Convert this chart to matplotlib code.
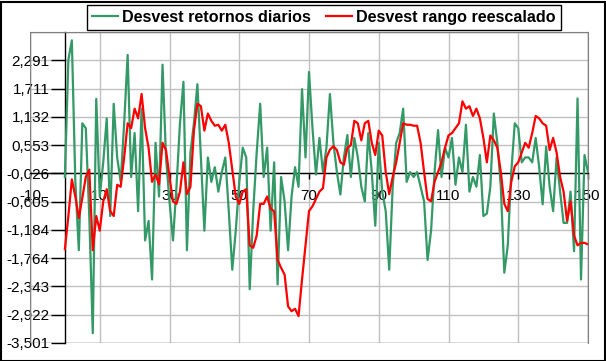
import numpy as np
import matplotlib
matplotlib.use('Agg')
import matplotlib.pyplot as plt
from matplotlib.patches import Rectangle

plt.rcParams['font.family'] = ['Liberation Sans', 'DejaVu Sans']

# periodo (x) y series
periodo = list(range(0, 151))

desvest_retornos = [
    -0.1, 2.3, 2.7, -0.2, -1.6, 1.0, 0.9, -0.9, -3.3, 1.5,
    -0.5, 0.2, 1.1, -0.9, 1.4, 0.3, -0.2, 1.0, 2.4, -0.1,
    0.8, -0.8, 1.3, -1.4, -1.0, -2.2, 0.6, -0.5, 2.2, 0.3,
    -0.6, -1.4, -0.3, 1.0, 1.85, -1.6, 0.4, 1.0, 1.8, 0.3,
    -1.2, 0.3, -0.2, 0.1, -0.4, 0.0, 0.3, -0.8, -2.0, -1.2,
    -0.2, 0.5, 0.3, -2.4, -0.8, 0.4, 1.4, -0.1, 0.5, -1.2,
    0.2, -2.3, -0.1, -0.6, -1.6, -0.5, 0.1, -0.3, 1.7, 0.3,
    2.05, 0.9, -0.05, 0.7, 0.0, 0.5, 1.6, 0.6, 0.0, -0.46,
    0.3, 0.76, -0.1, 0.7, 0.3, -0.3, -0.6, 0.8, 0.0, -1.1,
    0.6, -0.4, -0.8, -2.0, -0.3, 0.6, 0.8, 1.3, -0.2, 0.0,
    -0.1, 0.0, -0.3, -0.6, -1.8, -1.2, 0.0, 0.86, -0.1, 0.5,
    0.3, 0.7, -0.26, 0.3, 0.0, 0.97, -0.4, -0.1, -0.3, 0.35,
    -0.9, -0.85, -0.3, 1.2, 0.6, -0.3, -2.06, -1.5, 0.0, 1.0,
    0.9, 0.2, 0.3, 0.3, 0.2, 0.7, 0.1, -0.66, 0.52, -0.3,
    -0.8, 0.3, -0.4, -1.04, -1.04, -0.4, -1.62, 1.51, -2.2, 0.35,
    0.0,
]

desvest_rango = [
    -1.58, -0.9, -0.15, -0.5, -0.94, -0.53, -0.1, 0.05, -1.6, -0.9,
    -1.2, -0.6, -0.35, -0.8, -0.9, -0.26, -0.3, 0.3, 1.0, 0.9,
    1.3, 1.1, 1.6, 0.9, 0.5, -0.2, -0.05, -0.25, 0.6, 0.45,
    -0.1, -0.6, -0.65, -0.4, 0.2, -0.45, -0.3, 0.85, 1.4, 1.35,
    0.85, 1.2, 1.05, 0.95, 0.97, 0.85, 0.97, 0.6, 0.05, -0.5,
    -0.65, -0.4, -0.35, -1.5, -1.55, -1.3, -0.65, -0.65, -0.5, -0.75,
    -0.8, -1.8, -1.96, -2.1, -2.75, -2.85, -2.8, -2.95, -2.2, -1.5,
    -0.8, -0.7, -0.55, -0.4, -0.33, 0.3, 0.46, 0.53, 0.45, 0.2,
    0.15, 0.5, 0.55, 1.05, 1.0, 0.65, 1.0, 1.05, 0.6, 0.35,
    0.85, 0.75, 0.0, -0.45, -0.1, 0.2, 0.6, 1.0, 0.97, 0.97,
    0.95, 0.95, 0.6, 0.0, -0.55, -0.6, -0.2, 0.0, 0.2, 0.5,
    0.75, 0.8, 0.9, 1.0, 1.45, 1.3, 1.35, 1.15, 1.3, 1.1,
    0.7, 0.2, 0.75, 0.65, 0.5, 0.0, -0.65, -0.8, -0.2, 0.12,
    0.2, 0.4, 0.6, 0.5, 0.8, 1.15, 1.1, 1.0, 0.95, 0.45,
    0.7, 0.4, -0.1, -0.4, -1.0, -0.6, -1.3, -1.5, -1.45, -1.45,
    -1.48,
]

y_ticks = [-3.501, -2.922, -2.343, -1.764, -1.184, -0.605, -0.026,
           0.553, 1.132, 1.711, 2.291]
y_labels = ['-3,501', '-2,922', '-2,343', '-1,764', '-1,184', '-0,605',
            '-0,026', '0,553', '1,132', '1,711', '2,291']
x_ticks = [-10, 10, 30, 50, 70, 90, 110, 130, 150]

fig = plt.figure(figsize=(6.06, 3.61), dpi=100)
ax = fig.add_axes([30/606, 1 - 343/361, 558/606, 311/361])

ax.plot(periodo, desvest_retornos, color='#339966', lw=1.6,
        label='Desvest retornos diarios', zorder=3)
ax.plot(periodo, desvest_rango, color='#ff0000', lw=1.6,
        label='Desvest rango reescalado', zorder=4)

ax.set_xlim(-10, 150)
ax.set_ylim(-3.501, 2.870)
ax.set_yticks(y_ticks)
ax.set_yticklabels(y_labels)
ax.set_xticks(x_ticks)
ax.set_xticklabels([str(t) for t in x_ticks], rotation=90, va='top', ha='center')
ax.grid(True, color='#c0c0c0', lw=1)
ax.set_axisbelow(True)

# ejes que se cruzan en x=0 / y=-0,026 como en Excel
ax.spines['left'].set_position(('data', 0))
ax.spines['bottom'].set_position(('data', -0.026))
for s in ('left', 'bottom'):
    ax.spines[s].set_color('black')
    ax.spines[s].set_linewidth(1)
    ax.spines[s].set_zorder(2.5)
for s in ('top', 'right'):
    ax.spines[s].set_color('#808080')
ax.add_patch(Rectangle((0, 0), 1, 1, transform=ax.transAxes, fill=False,
                       edgecolor='#808080', lw=1, zorder=1))
ax.tick_params(axis='y', direction='out', length=10, width=1, pad=1,
               labelsize=11)
ax.tick_params(axis='x', direction='out', length=4, width=1, pad=7,
               labelsize=11)

leg = ax.legend(loc='upper left', bbox_to_anchor=(87/606, 1 - 5/361),
                bbox_transform=fig.transFigure, ncol=2, frameon=True,
                fancybox=False, edgecolor='black', framealpha=1,
                prop={'weight': 'bold', 'size': 11.6}, handlelength=1.6,
                handletextpad=0.3, columnspacing=0.9, borderpad=0.3,
                borderaxespad=0)
leg.get_frame().set_linewidth(1)
leg.set_zorder(10)

fig.patches.append(Rectangle((0.5/606, 0.5/361), 604/606, 359/361,
                             transform=fig.transFigure, fill=False,
                             edgecolor='black', lw=1.5))

fig.savefig('out.png', dpi=100)
